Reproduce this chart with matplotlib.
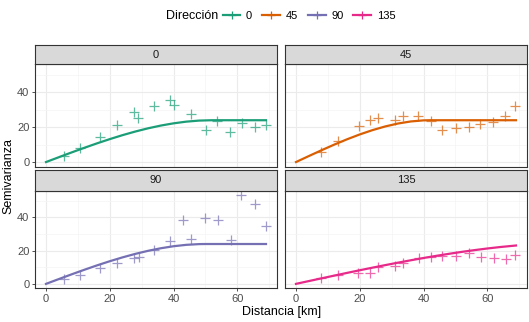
import matplotlib.pyplot as plt
from matplotlib.lines import Line2D

# ── data ─────────────────────────────────────────────────────
directions = ["0", "45", "90", "135"]
colors = ["#1B9E77", "#D95F02", "#7570B3", "#E7298A"]

# empirical semivariogram points (distance km, semivariance)
dist_0 = [5.5, 10.7, 17.0, 22.4, 27.6, 28.7, 33.8, 38.8, 40.1, 45.4, 50.2, 53.7, 57.6, 61.6, 65.7, 69.0]
gam_0 = [3.3, 7.8, 14.1, 21.5, 28.8, 25.5, 31.9, 35.6, 32.7, 27.8, 18.2, 23.5, 17.1, 22.4, 20.2, 21.4]

dist_45 = [7.8, 13.3, 19.7, 23.2, 25.8, 31.0, 33.5, 38.2, 42.2, 45.8, 50.3, 54.2, 57.8, 61.8, 65.6, 68.8]
gam_45 = [5.9, 12.1, 20.6, 23.9, 25.1, 24.1, 26.2, 26.5, 23.3, 18.2, 19.6, 20.0, 22.1, 23.1, 26.5, 32.4]

dist_90 = [5.5, 10.7, 17.0, 22.2, 27.7, 29.3, 33.8, 39.0, 43.0, 45.4, 49.8, 54.0, 57.9, 61.3, 65.6, 69.0]
gam_90 = [2.9, 5.5, 9.6, 12.4, 15.5, 16.1, 20.2, 26.1, 38.6, 27.0, 39.8, 38.2, 26.6, 53.4, 48.1, 34.9]

dist_135 = [7.8, 13.3, 19.6, 23.2, 25.8, 31.0, 33.6, 38.5, 42.3, 45.8, 50.3, 54.3, 57.9, 62.0, 65.8, 68.8]
gam_135 = [3.3, 5.3, 6.6, 6.6, 10.4, 10.8, 12.4, 15.3, 16.1, 16.9, 16.5, 18.6, 16.1, 15.5, 15.1, 17.3]

# fitted model curves, sampled along the drawn lines
fit_x_0 = [0, 4, 8, 12, 16, 20, 24, 28, 32, 36, 40, 44, 48, 52, 69]
fit_y_0 = [0, 2.76, 5.50, 8.16, 10.73, 13.16, 15.44, 17.51, 19.36, 20.94, 22.22, 23.19, 23.79, 24.0, 24.0]

fit_x_45 = [0, 4, 8, 12, 16, 20, 24, 28, 32, 36, 40, 42, 69]
fit_y_45 = [0, 3.42, 6.77, 10.01, 13.05, 15.85, 18.33, 20.44, 22.12, 23.30, 23.92, 24.0, 24.0]

fit_x_90 = [0, 4, 8, 12, 16, 20, 24, 28, 32, 36, 40, 44, 48, 50, 69]
fit_y_90 = [0, 2.87, 5.71, 8.47, 11.13, 13.63, 15.95, 18.05, 19.89, 21.44, 22.66, 23.50, 23.94, 24.0, 24.0]

fit_x_135 = [0, 4, 8, 12, 16, 20, 24, 28, 32, 36, 40, 44, 48, 52, 56, 60, 64, 69]
fit_y_135 = [0, 1.67, 3.32, 4.97, 6.60, 8.20, 9.76, 11.29, 12.77, 14.20, 15.58, 16.87, 18.10, 19.26, 20.32, 21.30, 22.17, 23.10]

points = [(dist_0, gam_0), (dist_45, gam_45), (dist_90, gam_90), (dist_135, gam_135)]
fits = [(fit_x_0, fit_y_0), (fit_x_45, fit_y_45), (fit_x_90, fit_y_90), (fit_x_135, fit_y_135)]

# ── layout (pixel boxes of the reference) ────────────────────
W, H = 529, 322
fig = plt.figure(figsize=(W / 100, H / 100), dpi=100)
plt.rcParams["font.family"] = ["Liberation Sans", "DejaVu Sans"]

cols = [(35, 277), (285, 527)]
rows = [(44.7, 64.3, 166.7), (170, 190.7, 288.3)]  # strip top, plot top, plot bottom

grey20 = "#333333"
for i, d in enumerate(directions):
    r, c = divmod(i, 2)
    x0, x1 = cols[c]
    st, pt, pb = rows[r]
    ax = fig.add_axes([x0 / W, 1 - pb / H, (x1 - x0) / W, (pb - pt) / H])
    ax.set_xlim(-3.45, 72.45)
    ax.set_ylim(-2.67, 56.1)
    ax.set_xticks([0, 20, 40, 60])
    ax.set_yticks([0, 20, 40])
    ax.set_xticks([10, 30, 50, 70], minor=True)
    ax.set_yticks([10, 30, 50], minor=True)
    ax.grid(which="major", color="#EBEBEB", lw=0.8)
    ax.grid(which="minor", color="#F4F4F4", lw=0.5)
    ax.set_axisbelow(True)
    for s in ax.spines.values():
        s.set_color(grey20)
        s.set_linewidth(0.8)
    ax.tick_params(which="major", length=2.5, width=0.6, color=grey20,
                   labelsize=8, labelcolor="#4D4D4D", pad=1.5)
    ax.tick_params(which="minor", length=0)
    if c == 1:
        ax.tick_params(axis="y", labelleft=False, length=0)
    if r == 0:
        ax.tick_params(axis="x", labelbottom=False, length=0)

    px, py = points[i]
    ax.plot(px, py, "+", color=colors[i], ms=6.5, mew=0.9, alpha=0.7)
    fx, fy = fits[i]
    ax.plot(fx, fy, "-", color=colors[i], lw=1.6)

    # facet strip
    sax = fig.add_axes([x0 / W, 1 - pt / H, (x1 - x0) / W, (pt - st) / H])
    sax.set_facecolor("#D9D9D9")
    sax.set_xticks([])
    sax.set_yticks([])
    for s in sax.spines.values():
        s.set_color(grey20)
        s.set_linewidth(0.8)
    sax.text(0.5, 0.5, d, ha="center", va="center", fontsize=8, color="#1A1A1A")

fig.text(8 / W, 1 - 176 / H, "Semivarianza", rotation=90, ha="center", va="center", fontsize=9)
fig.text(282 / W, 1 - 312.5 / H, "Distancia [km]", ha="center", va="center", fontsize=9)

# ── legend on top ────────────────────────────────────────────
handles = [Line2D([], [], color=col, lw=1.6, marker="+", ms=6, mew=0.9) for col in colors]
fig.text(192.5 / W, 1 - 15.7 / H, "Dirección", ha="center", va="center", fontsize=9)
fig.legend(handles, directions, loc="center", bbox_to_anchor=(309 / W, 1 - 15.7 / H),
           ncol=4, frameon=False, fontsize=8, handlelength=1.6, handletextpad=0.5,
           columnspacing=0.9, borderpad=0)

fig.savefig("out.png", dpi=100)
